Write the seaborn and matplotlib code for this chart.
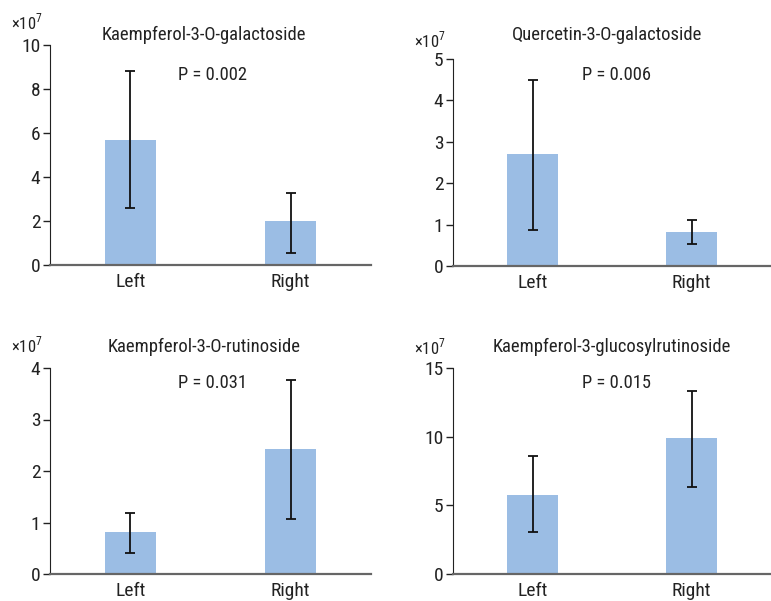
import numpy as np
import pandas as pd
import seaborn as sns
import matplotlib
matplotlib.use("Agg")
from matplotlib import pyplot as plt

# values in units of 1e7
sides = ["Left", "Right"]
titles = ["Kaempferol-3-O-galactoside", "Quercetin-3-O-galactoside",
          "Kaempferol-3-O-rutinoside", "Kaempferol-3-glucosylrutinoside"]
p_values = ["P = 0.002", "P = 0.006", "P = 0.031", "P = 0.015"]
means = [[5.7, 2.0], [2.7, 0.82], [0.82, 2.43], [5.75, 9.9]]
err_low = [[2.6, 0.55], [0.88, 0.52], [0.40, 1.07], [3.08, 6.35]]
err_high = [[8.82, 3.27], [4.50, 1.10], [1.19, 3.77], [8.6, 13.3]]
ymax = [10, 5, 4, 15]
yticks = [[0, 2, 4, 6, 8, 10], [0, 1, 2, 3, 4, 5], [0, 1, 2, 3, 4], [0, 5, 10, 15]]

sns.set_style("ticks")
plt.rcParams['font.family'] = ['Roboto Condensed', 'Liberation Sans Narrow',
                               'Roboto', 'DejaVu Sans']
plt.rcParams['mathtext.fontset'] = 'custom'
plt.rcParams['mathtext.rm'] = 'Roboto Condensed'

W, H = 771, 601
fig = plt.figure(figsize=(W / 100, H / 100), dpi=100)

# axes boxes in pixels: left, right, top (ymax), bottom (0)
boxes = [(50, 371, 45, 265), (453, 771, 59, 266),
         (50, 371, 368, 574), (453, 771, 368, 574)]
title_pos = [(204, 35), (607, 35), (204, 347), (612, 347)]
mult_pos = [(11, 22), (414, 40), (11, 345), (414, 347)]
p_pos = [(212, 75), (616, 75), (212, 383), (616, 383)]

bar_color = "#9bbde4"

for i in range(4):
    l, r, t, b = boxes[i]
    ax = fig.add_axes([l / W, (H - b) / H, (r - l) / W, (b - t) / H])
    df = pd.DataFrame({"side": sides, "value": means[i]})
    sns.barplot(data=df, x="side", y="value", color=bar_color, saturation=1,
                width=0.32, errorbar=None, linewidth=0, ax=ax)
    m = np.array(means[i])
    yerr = [m - np.array(err_low[i]), np.array(err_high[i]) - m]
    ax.errorbar([0, 1], m, yerr=yerr, fmt="none", ecolor="#111111",
                elinewidth=1.3, capsize=3.5, capthick=1.3)
    ax.set_xlim(-0.5, 1.5)
    ax.set_ylim(0, ymax[i])
    ax.set_yticks(yticks[i])
    ax.set_xlabel("")
    ax.set_ylabel("")
    sns.despine(ax=ax)
    ax.spines["left"].set_color("#222222")
    ax.spines["bottom"].set_color("#666666")
    ax.spines["bottom"].set_linewidth(1.6)
    ax.tick_params(axis="y", length=5, width=1, labelsize=14, pad=2, colors="#222222")
    ax.tick_params(axis="x", length=0, labelsize=14, pad=6, colors="#222222")
    ax.patch.set_alpha(0)

    tx, ty = title_pos[i]
    fig.text(tx / W, 1 - ty / H, titles[i], ha="center", va="center",
             fontsize=13.4, color="#222222")
    mx, my = mult_pos[i]
    fig.text(mx / W, 1 - my / H, r"×10$^{7}$", ha="left", va="center",
             fontsize=12, color="#222222")
    px, py = p_pos[i]
    fig.text(px / W, 1 - py / H, p_values[i], ha="center", va="center",
             fontsize=13.3, color="#222222")

fig.savefig("out.png", dpi=100)
